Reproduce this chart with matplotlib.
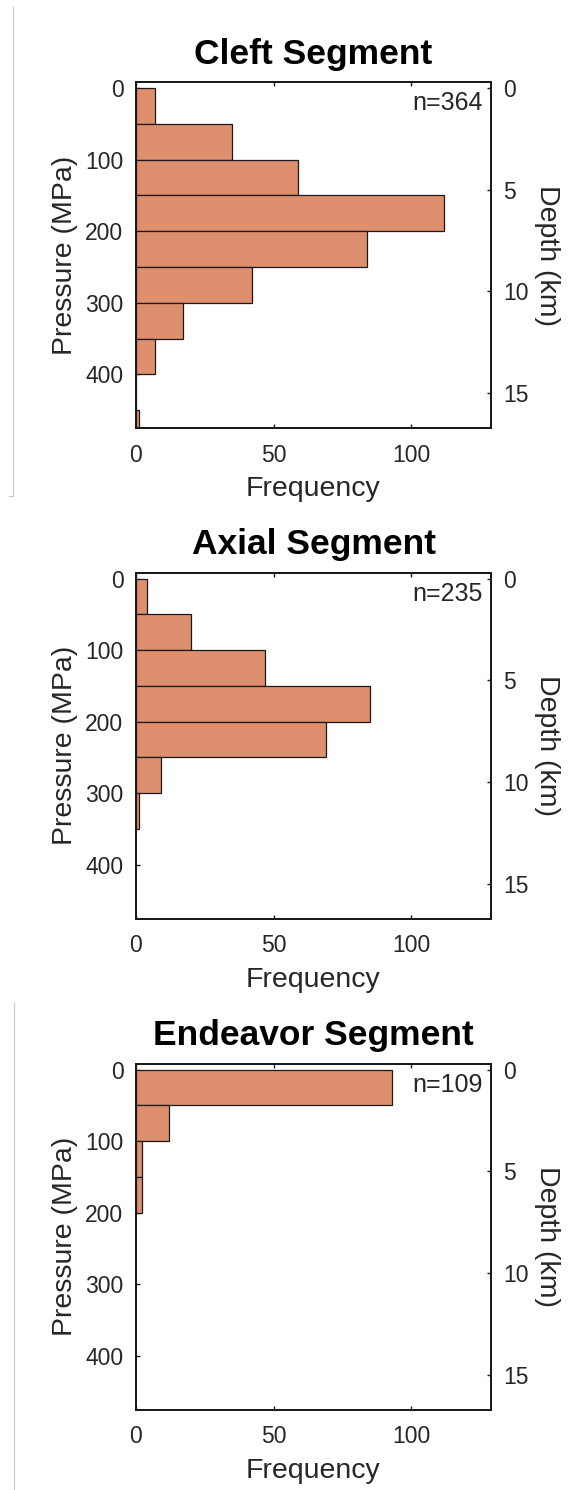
import numpy as np
import matplotlib
matplotlib.use("Agg")
import matplotlib.pyplot as plt
from matplotlib.lines import Line2D

plt.rcParams["font.family"] = ["Liberation Sans", "DejaVu Sans"]

# Histogram counts per 50 MPa pressure bin, starting at 0 MPa
segments = ["Cleft Segment", "Axial Segment", "Endeavor Segment"]
bin_width = 50
cleft_counts = [7, 35, 59, 112, 84, 42, 17, 7, 0, 1]
axial_counts = [4, 20, 47, 85, 69, 9, 1]
endeavor_counts = [93, 12, 2, 2]

pressure_ticks = [0, 100, 200, 300, 400]
depth_ticks = [0, 5, 10, 15]
freq_ticks = [0, 50, 100]

MPA_PER_KM = 28.42          # lithostatic gradient used for the depth axis
pressure_lim = (-8.5, 475)
freq_lim = (0, 129)

bar_color = "#DE8F6E"
ink = "#262626"

W, H = 586, 1490
fig = plt.figure(figsize=(W / 100, H / 100), dpi=100)

ax_left, ax_w, ax_h = 136, 355, 346
ax_tops = [82, 572.5, 1063.5]

for name, counts, top in zip(segments, [cleft_counts, axial_counts, endeavor_counts], ax_tops):
    ax = fig.add_axes([ax_left / W, (H - top - ax_h) / H, ax_w / W, ax_h / H])
    edges = np.arange(len(counts)) * bin_width
    ax.barh(edges, counts, height=bin_width, align="edge",
            color=bar_color, edgecolor="#1a1a1a", linewidth=0.9, zorder=2)

    ax.set_xlim(*freq_lim)
    ax.set_ylim(pressure_lim[1], pressure_lim[0])
    ax.set_xticks(freq_ticks)
    ax.set_yticks(pressure_ticks)
    ax.tick_params(axis="both", direction="in", length=3, width=1.0,
                   colors="#1a1a1a", labelcolor=ink, labelsize=16.5)
    ax.tick_params(axis="x", top=True, pad=11.5)
    ax.tick_params(axis="y", right=False, pad=9)
    for sp in ax.spines.values():
        sp.set_linewidth(1.4)
        sp.set_color("#1a1a1a")

    ax.set_xlabel("Frequency", fontsize=20.5, color=ink, va="center")
    ax.xaxis.set_label_coords(0.5, -61.5 / ax_h)
    ax.set_ylabel("Pressure (MPa)", fontsize=20.5, color=ink, va="center")
    ax.yaxis.set_label_coords((65 - ax_left) / ax_w, 0.5)

    ax.set_title(name, fontsize=25.5, fontweight="bold", color="black",
                 y=1 + 18.5 / ax_h, pad=0, va="baseline")

    n_total = int(np.sum(counts))
    ax.text(126, 21, f"n={n_total}", fontsize=18, color=ink, ha="right", va="center", zorder=3)

    # Depth axis on the right, converted from pressure
    ax2 = ax.twinx()
    ax2.set_ylim(pressure_lim[1] / MPA_PER_KM, pressure_lim[0] / MPA_PER_KM)
    ax2.set_yticks(depth_ticks)
    ax2.tick_params(axis="y", direction="in", length=3, width=1.0,
                    colors="#1a1a1a", labelcolor=ink, labelsize=16.5, pad=8.5)
    for sp in ax2.spines.values():
        sp.set_linewidth(1.4)
        sp.set_color("#1a1a1a")
    ax2.set_ylabel("Depth (km)", fontsize=20.5, color=ink, rotation=270, va="center")
    ax2.yaxis.set_label_coords((546.6 - ax_left) / ax_w, 0.5)

# Thin grey frame edges along the left margin
fig.add_artist(Line2D([12.7 / W, 12.7 / W], [(H - 7) / H, (H - 496) / H],
                      transform=fig.transFigure, color="#c8c8c8", linewidth=0.8))
fig.add_artist(Line2D([9.5 / W, 12.7 / W], [(H - 496) / H, (H - 496) / H],
                      transform=fig.transFigure, color="#c8c8c8", linewidth=0.8))
fig.add_artist(Line2D([14 / W, 14 / W], [(H - 1003) / H, 0],
                      transform=fig.transFigure, color="#c8c8c8", linewidth=0.8))

fig.savefig("out.png", dpi=100, facecolor="white")
